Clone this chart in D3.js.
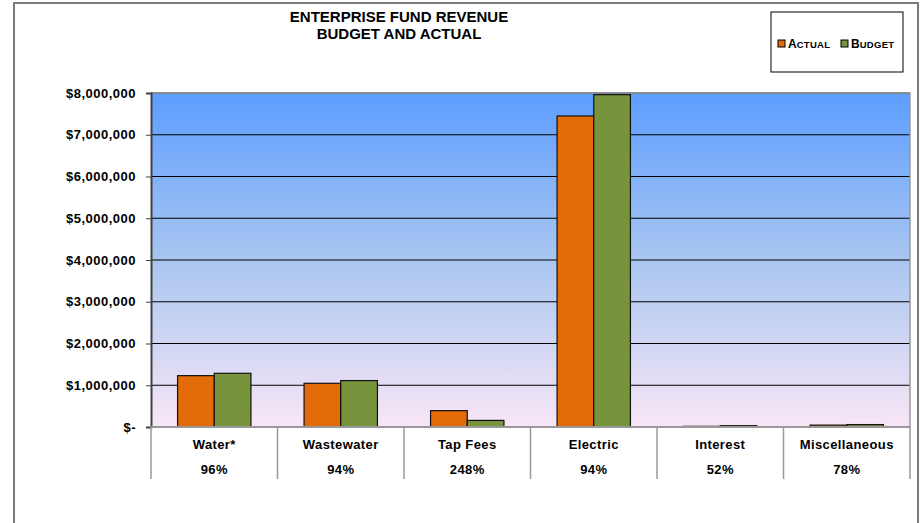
<!DOCTYPE html>
<html>
<head>
<meta charset="utf-8">
<script src="https://cdn.jsdelivr.net/npm/d3@7"></script>
<style>
  body { margin: 0; background: #fff; }
  svg { font-family: "Liberation Sans", Arial, sans-serif; }
</style>
</head>
<body>
<div id="chart"></div>
<script>
// Chart data
const categories = ["Water*", "Wastewater", "Tap Fees", "Electric", "Interest", "Miscellaneous"];
const percents = ["96%", "94%", "248%", "94%", "52%", "78%"];
const actual = [1230000, 1047000, 392000, 7450000, 16000, 45000];
const budget = [1286000, 1112000, 158000, 7960000, 31000, 58000];
const seriesNames = ["Actual", "Budget"];
const tickValues = [0, 1000000, 2000000, 3000000, 4000000, 5000000, 6000000, 7000000, 8000000];

const colors = { Actual: "#E36C09", Budget: "#77933C" };

const W = 921, H = 523;
const margin = { top: 93, right: 11, bottom: 96, left: 151 };
const width = W - margin.left - margin.right;
const height = H - margin.top - margin.bottom;

const svg = d3.select("#chart").append("svg")
    .attr("width", W)
    .attr("height", H);

// Outer frame
svg.append("rect")
    .attr("x", 14).attr("y", 3)
    .attr("width", 904).attr("height", 525)
    .attr("fill", "none")
    .attr("stroke", "#7a7a7a")
    .attr("stroke-width", 2);

// Background gradient
const defs = svg.append("defs");
const grad = defs.append("linearGradient")
    .attr("id", "bg").attr("x1", 0).attr("y1", 0).attr("x2", 0).attr("y2", 1);
grad.append("stop").attr("offset", "0%").attr("stop-color", "#5c9dff");
grad.append("stop").attr("offset", "50%").attr("stop-color", "#a9c6f0");
grad.append("stop").attr("offset", "100%").attr("stop-color", "#f8e6f6");

const chart = svg.append("g")
    .attr("transform", `translate(${margin.left},${margin.top})`);

chart.append("rect")
    .attr("width", width).attr("height", height)
    .attr("fill", "url(#bg)");

// Scales
const y = d3.scaleLinear().domain([0, 8000000]).range([height, 0]);
const x0 = d3.scaleBand().domain(categories).range([0, width]);
const x1 = d3.scaleBand().domain(seriesNames)
    .range([x0.bandwidth() * 0.21, x0.bandwidth() * 0.79]);

// Gridlines
chart.append("g")
    .selectAll("line")
    .data(tickValues.slice(1))
    .join("line")
    .attr("x1", 0).attr("x2", width)
    .attr("y1", d => y(d)).attr("y2", d => y(d))
    .attr("stroke", "#000").attr("stroke-width", 1);

// Plot border top/right
chart.append("path")
    .attr("d", `M0,0H${width}V${height}`)
    .attr("fill", "none")
    .attr("stroke", "#999").attr("stroke-width", 1.5);

// Bars
const rows = categories.map((c, i) => ({ cat: c, Actual: actual[i], Budget: budget[i] }));
const groups = chart.selectAll("g.cat")
    .data(rows)
    .join("g")
    .attr("class", "cat")
    .attr("transform", d => `translate(${x0(d.cat)},0)`);

groups.selectAll("rect")
    .data(d => seriesNames.map(s => ({ s, v: d[s] })))
    .join("rect")
    .attr("x", d => x1(d.s))
    .attr("y", d => y(d.v))
    .attr("width", x1.bandwidth())
    .attr("height", d => height - y(d.v))
    .attr("fill", d => colors[d.s])
    .attr("stroke", "#111")
    .attr("stroke-width", 1.2);

// Y axis
const yAxis = chart.append("g")
    .call(d3.axisLeft(y)
        .tickValues(tickValues)
        .tickSize(5)
        .tickPadding(10)
        .tickFormat(d => d === 0 ? "$-" : d3.format("$,")(d)));
yAxis.select(".domain").attr("stroke", "#404040").attr("stroke-width", 2);
yAxis.selectAll(".tick line").attr("stroke", "#404040");
yAxis.selectAll("text")
    .attr("fill", "#000")
    .style("font-size", "13px")
    .style("letter-spacing", "0.5px")
    .style("font-weight", "bold")
    .style("font-family", "'Liberation Sans', Arial, sans-serif");

// Category table below the axis
chart.append("line")
    .attr("x1", 0).attr("x2", width)
    .attr("y1", height).attr("y2", height)
    .attr("stroke", "#999").attr("stroke-width", 2);

const dividers = categories.map(c => x0(c)).concat([width]);
chart.append("g")
    .selectAll("line")
    .data(dividers)
    .join("line")
    .attr("x1", d => d).attr("x2", d => d)
    .attr("y1", height).attr("y2", height + 52)
    .attr("stroke", "#999").attr("stroke-width", 1.5);

chart.append("g")
    .selectAll("text")
    .data(categories)
    .join("text")
    .attr("x", d => x0(d) + x0.bandwidth() / 2)
    .attr("y", height + 22)
    .attr("text-anchor", "middle")
    .style("font-size", "13px")
    .style("letter-spacing", "0.4px")
    .style("font-weight", "bold")
    .text(d => d);

chart.append("g")
    .selectAll("text")
    .data(percents)
    .join("text")
    .attr("x", (d, i) => x0(categories[i]) + x0.bandwidth() / 2)
    .attr("y", height + 47)
    .attr("text-anchor", "middle")
    .style("font-size", "13px")
    .style("letter-spacing", "0.4px")
    .style("font-weight", "bold")
    .text(d => d);

// Title
const title = svg.append("text")
    .attr("x", 399)
    .attr("text-anchor", "middle")
    .style("font-size", "15px")
    .style("font-weight", "bold");
title.append("tspan").attr("x", 399).attr("y", 22).text("ENTERPRISE FUND REVENUE");
title.append("tspan").attr("x", 399).attr("y", 39).text("BUDGET AND ACTUAL");

// Legend
const legend = svg.append("g").attr("transform", "translate(771,12)");
legend.append("rect")
    .attr("width", 132).attr("height", 60)
    .attr("fill", "#fff")
    .attr("stroke", "#000").attr("stroke-width", 1);

const legendItems = [
    { name: seriesNames[0], x: 7 },
    { name: seriesNames[1], x: 70 }
];
const li = legend.selectAll("g.li")
    .data(legendItems)
    .join("g")
    .attr("class", "li")
    .attr("transform", d => `translate(${d.x},32)`);
li.append("rect")
    .attr("x", 0).attr("y", -4)
    .attr("width", 7).attr("height", 7)
    .attr("fill", d => colors[d.name])
    .attr("stroke", "#000").attr("stroke-width", 1);
const lt = li.append("text")
    .attr("x", 10).attr("y", 4)
    .style("font-weight", "bold");
lt.append("tspan").style("font-size", "12px").text(d => d.name[0].toUpperCase());
lt.append("tspan").style("font-size", "9.5px").style("letter-spacing", "0.3px")
    .text(d => d.name.slice(1).toUpperCase());
</script>
</body>
</html>
